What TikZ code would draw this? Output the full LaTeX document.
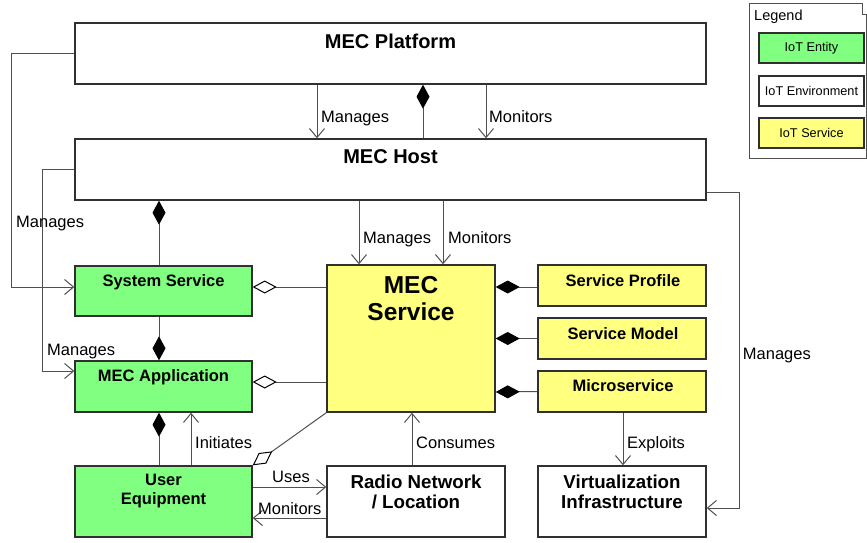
\documentclass[tikz,border=0pt]{standalone}
\usepackage{fontspec}
\setmainfont{Liberation Sans}
\usetikzlibrary{arrows.meta}
\definecolor{iotgreen}{HTML}{80FF80}
\definecolor{iotyellow}{HTML}{FFFF80}
\definecolor{umlgray}{HTML}{505050}
\definecolor{boxline}{HTML}{303030}
\newcommand{\lblfont}{\fontsize{16.5}{19}\selectfont}

\begin{document}
\begin{tikzpicture}[
  x=1pt,y=-1pt,
  entity/.style={draw=boxline,line width=1.4pt,fill=iotgreen,inner sep=0pt},
  envbox/.style={draw=boxline,line width=1.4pt,fill=white,inner sep=0pt},
  service/.style={draw=boxline,line width=1.4pt,fill=iotyellow,inner sep=0pt},
  ttl/.style={font=\bfseries\lblfont,inner sep=0pt,align=center,anchor=base},
  lbl/.style={font=\lblfont,inner sep=0pt,anchor=base west},
  legitem/.style={draw=boxline,line width=1.2pt,minimum width=105pt,minimum height=30pt,
                  font=\fontsize{12.7}{15}\selectfont,inner sep=0pt},
  assoc/.style={draw=umlgray,line width=1pt,-{Straight Barb[length=9pt,width=15pt]}},
  comp/.style={draw=umlgray,line width=1pt,{Diamond[length=24pt,width=13pt,color=black]}-},
  agg/.style={draw=umlgray,line width=1pt,{Diamond[open,length=24pt,width=13pt,color=black]}-}
]
  \useasboundingbox (0,0) rectangle (867,542);

  % boxes
  \node[envbox,minimum width=631pt,minimum height=61pt] (plat) at (390.5,53.5) {};
  \node[envbox,minimum width=631pt,minimum height=61pt] (host) at (390.5,169.5) {};
  \node[entity,minimum width=177pt,minimum height=50pt] (sys) at (163.5,291) {};
  \node[entity,minimum width=177pt,minimum height=51pt] (app) at (163.5,386.5) {};
  \node[entity,minimum width=177pt,minimum height=71pt] (ue) at (163.5,501.5) {};
  \node[service,minimum width=168pt,minimum height=147pt] (mecs) at (411,338.5) {};
  \node[service,minimum width=168pt,minimum height=41pt] (prof) at (622,285.5) {};
  \node[service,minimum width=168pt,minimum height=41pt] (model) at (622,338.5) {};
  \node[service,minimum width=168pt,minimum height=41pt] (micro) at (622,391.5) {};
  \node[envbox,minimum width=178pt,minimum height=71pt] (radio) at (416,501.5) {};
  \node[envbox,minimum width=168pt,minimum height=71pt] (virt) at (622,501.5) {};

  % titles
  \node[ttl,font=\bfseries\fontsize{20}{24}\selectfont] (plat-t) at (390.5,48.5) {MEC Platform};
  \node[ttl,font=\bfseries\fontsize{20}{24}\selectfont] (host-t) at (390.5,163.5) {MEC Host};
  \node[ttl] (sys-t) at (163.5,286) {System Service};
  \node[ttl] (app-t) at (163.5,381.7) {MEC Application};
  \node[ttl,anchor=north] (ue-t) at (163.5,474) {User\\Equipment};
  \node[ttl,anchor=north,font=\bfseries\fontsize{24.5}{27}\selectfont] (mecs-t) at (411,275.7) {MEC\\Service};
  \node[ttl] (prof-t) at (623,286) {Service Profile};
  \node[ttl] (model-t) at (623,339) {Service Model};
  \node[ttl] (micro-t) at (623,391.7) {Microservice};
  \node[ttl,anchor=north,font=\bfseries\fontsize{18.7}{20}\selectfont] (radio-t) at (416,474.7) {Radio Network\\/ Location};
  \node[ttl,anchor=north,font=\bfseries\fontsize{18.7}{20}\selectfont] (virt-t) at (622,474.7) {Virtualization\\Infrastructure};

  % connectors
  \draw[assoc] ([xshift=-73.5pt]plat.south) -- ([xshift=-73.5pt]host.north);
  \draw[comp] ([xshift=32.5pt]plat.south) -- ([xshift=32.5pt]host.north);
  \draw[assoc] ([xshift=95.5pt]plat.south) -- ([xshift=95.5pt]host.north);
  \draw[assoc] ([xshift=-31.5pt]host.south) -- ([xshift=-52pt]mecs.north);
  \draw[assoc] ([xshift=52.5pt]host.south) -- ([xshift=32pt]mecs.north);
  \draw[comp] ([xshift=-231.5pt]host.south) -- ([xshift=-4.5pt]sys.north);
  \draw[assoc] (plat.west) -- ++(-63,0) |- ([yshift=4pt]sys.west);
  \draw[assoc] (host.west) -- ++(-32,0) |- ([yshift=15.5pt]app.west);
  \draw[comp] ([xshift=-4.5pt]app.north) -- ([xshift=-4.5pt]sys.south);
  \draw[comp] ([xshift=-4.5pt]app.south) -- ([xshift=-4.5pt]ue.north);
  \draw[assoc] ([xshift=27.5pt]ue.north) -- ([xshift=27.5pt]app.south);
  \draw[agg] ([yshift=4pt]sys.east) -- ([yshift=51.5pt]mecs.west);
  \draw[agg] ([yshift=4.5pt]app.east) -- ([yshift=-43.5pt]mecs.west);
  \draw[agg] (ue.north east) -- (mecs.south west);
  \draw[assoc] ([yshift=14.5pt]ue.east) -- ([yshift=14.5pt]radio.west);
  \draw[assoc] ([yshift=-16.5pt]radio.west) -- ([yshift=-16.5pt]ue.east);
  \draw[assoc] ([xshift=-4pt]radio.north) -- ([xshift=1pt]mecs.south);
  \draw[comp] ([yshift=51.5pt]mecs.east) -- ([yshift=-1.5pt]prof.west);
  \draw[comp] (mecs.east) -- (model.west);
  \draw[comp] ([yshift=-53.5pt]mecs.east) -- (micro.west);
  \draw[assoc] ([xshift=1pt]micro.south) -- ([xshift=1pt]virt.north);
  \draw[assoc] ([yshift=-22.5pt]host.east) -- ++(33,0) |- ([yshift=-6.5pt]virt.east);

  % connector labels
  \node[lbl] (l-pm) at (321,122) {Manages};
  \node[lbl] (l-pmo) at (489,122) {Monitors};
  \node[lbl] (l-hm) at (363,243) {Manages};
  \node[lbl] (l-hmo) at (448,243) {Monitors};
  \node[lbl] (l-sm) at (16,227) {Manages};
  \node[lbl] (l-am) at (47,355) {Manages};
  \node[lbl] (l-init) at (195,448) {Initiates};
  \node[lbl] (l-uses) at (272,482) {Uses};
  \node[lbl] (l-mon) at (258,514) {Monitors};
  \node[lbl] (l-cons) at (416,448) {Consumes};
  \node[lbl] (l-expl) at (627,448) {Exploits};
  \node[lbl] (l-vm) at (742.7,359) {Manages};

  % legend
  \draw[umlgray,line width=1pt] (749,158) -- (749,3) -- (862,3) -- (862,14) -- (866,14) -- (866,158) -- cycle;
  \node[anchor=base west,inner sep=0pt,font=\fontsize{14.5}{17}\selectfont] (leg-t) at (754,20) {Legend};
  \node[legitem,fill=iotgreen] (leg-ent) at (811.5,48) {IoT Entity};
  \node[legitem,fill=white] (leg-env) at (811.5,91) {IoT Environment};
  \node[legitem,fill=iotyellow] (leg-svc) at (811.5,133) {IoT Service};
\end{tikzpicture}
\end{document}
